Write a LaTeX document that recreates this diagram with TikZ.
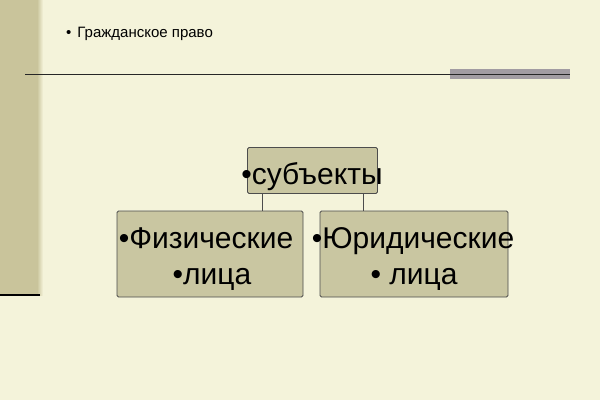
\documentclass[tikz,border=0pt]{standalone}
\usepackage{fontspec}
\setmainfont{Liberation Sans}
\definecolor{paper}{HTML}{F4F3DA}
\definecolor{band}{HTML}{C9C49B}
\definecolor{boxfill}{HTML}{C9C6A1}
\definecolor{barfill}{HTML}{A29CA2}

\begin{document}
\begin{tikzpicture}[x=1pt, y=-1pt,
  box/.style={draw=black!70, fill=boxfill, rounded corners=1.5pt, inner sep=0pt, line width=0.9pt},
  word/.style={font=\fontsize{30}{36}\selectfont, inner sep=0pt, anchor=base}]
% background
\fill[paper] (0,0) rectangle (600,400);
\useasboundingbox (0,0) rectangle (600,400);
% left band
\fill[band] (0,0) rectangle (37,295);
\shade[left color=band, right color=paper] (37,0) rectangle (43,295);
\draw[line width=2pt] (0,295) -- (40,295);
% title
\node[anchor=base west, inner sep=0pt, font=\fontsize{15}{17}\selectfont] (title) at (66,37) {•\hspace{6pt}Гражданское право};
% rule with grey bar
\coordinate (ruleL) at (25,74);
\coordinate (ruleR) at (570,74);
\fill[barfill] (450,69) rectangle (570,79);
\draw[line width=1pt, black!85] (ruleL) -- (ruleR);
% boxes
\node[box, minimum width=130, minimum height=46] (subj) at (312.5,170.5) {};
\node[box, minimum width=186, minimum height=86] (fiz) at (210,254) {};
\node[box, minimum width=188, minimum height=86] (jur) at (414,254) {};
% connectors
\draw[line width=0.9pt, black!70] ([xshift=-50]subj.south) -- ([xshift=-50]subj.south |- fiz.north);
\draw[line width=0.9pt, black!70] ([xshift=51]subj.south) -- ([xshift=51]subj.south |- jur.north);
% texts
\node[word] (subjT) at (312,184) {•субъекты};
\node[word] (fiz1) at (206,248) {•Физические};
\node[word] (fiz2) at (212,284) {•лица};
\node[word] (jur1) at (413,248) {•Юридические};
\node[word] (jur2) at (414,284) {• лица};
\end{tikzpicture}
\end{document}
